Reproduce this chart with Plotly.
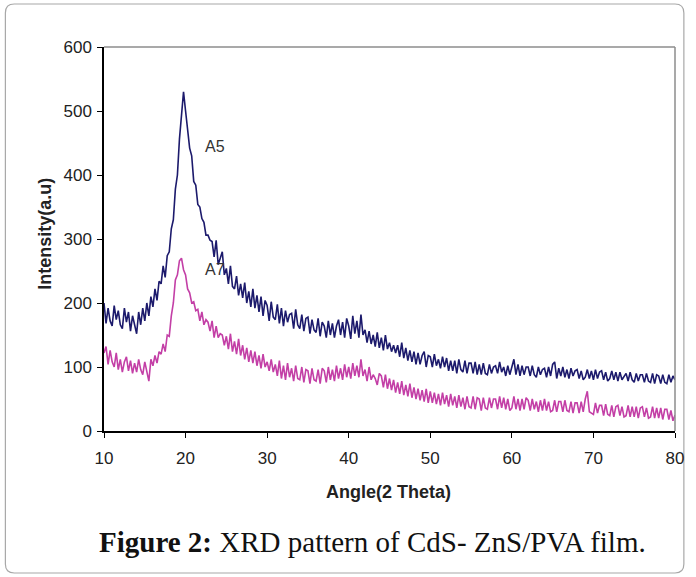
import numpy as np
import plotly.graph_objects as go

# ---- data ----
angle_start, angle_end, angle_step = 10.0, 80.0, 0.25
angles = np.round(np.arange(angle_start, angle_end + angle_step / 2, angle_step), 2)

a5_intensity = [
    200, 168, 192, 172,  164, 196, 174, 188,  166, 160, 192, 170,  186, 156, 180, 164,
    152, 186, 166, 192,  172, 200, 180, 210,  194, 222, 204, 234,  230, 258, 240, 274,
    280, 316, 330, 378,  400, 456, 496, 530,  500, 474, 442, 430,  390, 384, 354, 350,
    332, 326, 306, 306,  298, 296, 272, 298,  260, 270, 280, 244,  254, 230, 258, 226,
    222, 242, 212, 230,  208, 232, 200, 218,  194, 222, 192, 212,  186, 210, 180, 204,
    196, 172, 202, 178,  174, 198, 168, 192,  164, 188, 170, 182,  184, 160, 190, 166,
    160, 182, 156, 176,  178, 152, 174, 158,  154, 176, 148, 170,  164, 146, 172, 150,
    168, 146, 164, 174,  150, 170, 146, 176,  164, 144, 180, 152,  172, 146, 182, 150,
    158, 138, 156, 136,  150, 132, 154, 130,  146, 126, 150, 128,  138, 124, 134, 122,
    134, 116, 138, 114,  130, 110, 126, 108,  124, 104, 122, 104,  118, 124, 100, 118,
    116, 100, 120, 102,  112, 98, 116, 100,   114, 94, 110, 94,    110, 90, 112, 96,
    92, 110, 90, 106,    106, 90, 108, 88,    104, 88, 106, 90,    88, 104, 90, 100,
    102, 90, 108, 92,    100, 86, 102, 88,    100, 112, 88, 104,   86, 102, 88, 100,
    100, 86, 102, 88,    84, 100, 88, 96,     98, 84, 100, 86,     104, 108, 82, 98,
    86, 100, 84, 96,     82, 98, 86, 94,      96, 82, 94, 80,      84, 96, 82, 94,
    80, 96, 82, 92,      94, 80, 92, 78,      82, 94, 80, 92,      78, 92, 80, 86,
    90, 78, 92, 80,      76, 90, 78, 88,      88, 76, 90, 78,      76, 90, 74, 88,
    86, 74, 88, 76,      74, 88, 76, 86,      80,
]

a7_intensity = [
    122, 132, 104, 126,  108, 100, 122, 96,   112, 92, 108, 116,   94, 110, 90, 106,
    92, 112, 96, 88,     108, 92, 78, 112,    102, 118, 106, 124,  120, 136, 124, 150,
    148, 180, 200, 236,  244, 266, 270, 252,  244, 222, 216, 200,  202, 188, 190, 172,
    186, 166, 174, 170,  156, 172, 146, 164,  146, 152, 150, 134,  148, 128, 152, 124,
    140, 120, 144, 118,  134, 112, 130, 108,  126, 106, 124, 102,  118, 98, 120, 100,
    108, 94, 112, 92,    104, 86, 110, 82,    102, 80, 106, 84,    98, 78, 102, 82,
    80, 100, 76, 96,     94, 74, 98, 80,      78, 96, 74, 98,      94, 76, 100, 80,
    96, 78, 102, 82,     98, 80, 104, 84,     100, 82, 106, 86,    102, 84, 112, 86,
    96, 78, 100, 80,     88, 82, 72, 90,      86, 68, 88, 66,      82, 64, 80, 60,
    76, 58, 78, 56,      72, 54, 74, 52,      68, 50, 66, 48,      64, 46, 66, 44,
    62, 44, 60, 42,      58, 40, 60, 42,      56, 38, 58, 40,      54, 36, 56, 38,
    52, 34, 54, 38,      36, 54, 34, 52,      50, 32, 52, 36,      34, 52, 36, 50,
    50, 34, 54, 36,      52, 34, 50, 32,      36, 54, 34, 50,      32, 50, 34, 52,
    48, 32, 50, 34,      46, 30, 48, 32,      50, 32, 46, 30,      32, 48, 30, 46,
    46, 30, 48, 32,      30, 46, 28, 44,      44, 28, 46, 30,      50, 62, 30, 28,
    26, 44, 28, 40,      40, 24, 42, 26,      24, 40, 22, 38,      40, 24, 38, 22,
    24, 40, 22, 38,      22, 38, 20, 36,      38, 22, 36, 20,      22, 38, 20, 36,
    20, 36, 18, 34,      34, 18, 32, 16,      25,
]

series_names = ["A5", "A7"]
label_positions = {"A5": (23.6, 445), "A7": (23.6, 252)}
x_ticks = [10, 20, 30, 40, 50, 60, 70, 80]
y_ticks = [0, 100, 200, 300, 400, 500, 600]

W, H = 696, 577
L, R, T, B = 104, 683, 47, 431


def px(xp):
    return (xp - L) / (R - L)


def py(yp):
    return (B - yp) / (B - T)


fig = go.Figure()
fig.add_trace(go.Scatter(x=angles, y=a5_intensity, mode="lines", name="A5",
                         line=dict(color="#1c1a6c", width=1.6)))
fig.add_trace(go.Scatter(x=angles, y=a7_intensity, mode="lines", name="A7",
                         line=dict(color="#c33fa6", width=1.6)))

for name in series_names:
    xx, yy = label_positions[name]
    fig.add_annotation(x=xx, y=yy, text=name, showarrow=False,
                       font=dict(family="Arial, Liberation Sans", size=16, color="#333333"))

# outer rounded frame
x0, x1, y0, y1, r = 4, 692, 4, 573, 9
path = (f"M {px(x0 + r)},{py(y0)} L {px(x1 - r)},{py(y0)} "
        f"Q {px(x1)},{py(y0)} {px(x1)},{py(y0 + r)} L {px(x1)},{py(y1 - r)} "
        f"Q {px(x1)},{py(y1)} {px(x1 - r)},{py(y1)} L {px(x0 + r)},{py(y1)} "
        f"Q {px(x0)},{py(y1)} {px(x0)},{py(y1 - r)} L {px(x0)},{py(y0 + r)} "
        f"Q {px(x0)},{py(y0)} {px(x0 + r)},{py(y0)} Z")
fig.add_shape(type="path", path=path, xref="paper", yref="paper",
              line=dict(color="#a8a8a8", width=1.2), layer="below")
# grey top/right plot border
fig.add_shape(type="line", xref="paper", yref="paper", x0=0, x1=1, y0=1, y1=1,
              line=dict(color="#8c8c8c", width=1.5))
fig.add_shape(type="line", xref="paper", yref="paper", x0=1, x1=1, y0=0, y1=1,
              line=dict(color="#8c8c8c", width=1.5))

title_font = dict(family="Arial, Liberation Sans", size=18, color="#222222")
fig.add_annotation(xref="paper", yref="paper", x=px(392), y=py(492),
                   text="<b>Angle(2 Theta)</b>", showarrow=False,
                   xanchor="center", yanchor="middle", font=title_font)
fig.add_annotation(xref="paper", yref="paper", x=px(44), y=py(234),
                   text="<b>Intensity(a.u)</b>", showarrow=False, textangle=-90,
                   xanchor="center", yanchor="middle", font=title_font)

fig.add_annotation(xref="paper", yref="paper", x=px(376), y=py(542),
                   text="<b>Figure 2:</b> XRD pattern of CdS- ZnS/PVA film.",
                   showarrow=False, xanchor="center", yanchor="middle",
                   font=dict(family="Liberation Serif", size=29, color="#111111"))

axis_font = dict(family="Arial, Liberation Sans", size=17, color="#222222")
fig.update_layout(
    width=W, height=H,
    margin=dict(l=L, r=W - R, t=T, b=H - B),
    paper_bgcolor="white", plot_bgcolor="white",
    showlegend=False,
    xaxis=dict(range=[10, 80], tickvals=x_ticks, ticks="outside", ticklen=5,
               tickcolor="black", showline=True, linecolor="black", linewidth=1.5,
               showgrid=False, zeroline=False, tickfont=axis_font,
               ticklabelstandoff=6),
    yaxis=dict(range=[0, 600], tickvals=y_ticks, ticks="outside", ticklen=5,
               tickcolor="black", showline=True, linecolor="black", linewidth=1.5,
               showgrid=False, zeroline=False, tickfont=axis_font,
               ticklabelstandoff=2),
)

fig.write_html("out.html")
